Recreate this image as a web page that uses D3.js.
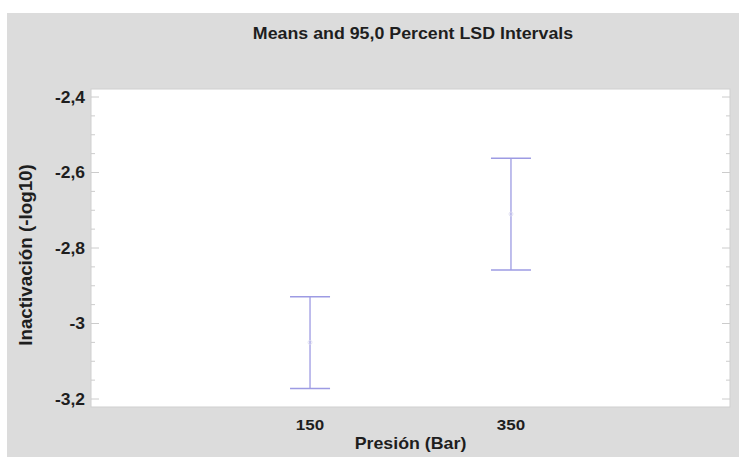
<!DOCTYPE html>
<html><head><meta charset="utf-8">
<script src="https://cdn.jsdelivr.net/npm/d3@7"></script>
<style>body{margin:0;background:#fff}text{font-family:Arial,"Liberation Sans",sans-serif}</style>
</head><body><svg id="c" width="739" height="457"></svg>
<script>
const categories = ["150", "350"];
const means = [-3.05, -2.71];
const lower = [-3.172, -2.858];
const upper = [-2.929, -2.562];
const yTicks = [-2.4, -2.6, -2.8, -3.0, -3.2];
const yTickLabels = ["-2,4", "-2,6", "-2,8", "-3", "-3,2"];
const title = "Means and 95,0 Percent LSD Intervals";
const xTitle = "Presión (Bar)";
const yTitle = "Inactivación (-log10)";

const svg = d3.select("#c");
svg.append("rect").attr("x",7).attr("y",13).attr("width",732).attr("height",444).attr("fill","#dcdcdc");
const L=91,R=730,T=89,B=407;
svg.append("rect").attr("x",L).attr("y",T).attr("width",R-L).attr("height",B-T).attr("fill","#fff").attr("stroke","#cfcfcf");

const y = d3.scaleLinear().domain([-3.2,-2.4]).range([399,97]);
const x = d3.scalePoint().domain(categories).range([L,R]).padding(1.09);

const minor = d3.range(-3.2, -2.399, 0.05).map(v=>+v.toFixed(2));
const g = svg.append("g");
minor.forEach(v=>{
  const major = yTicks.some(t=>Math.abs(t-v)<1e-6);
  const len = major?8:4;
  g.append("line").attr("x1",L).attr("x2",L+len).attr("y1",y(v)).attr("y2",y(v)).attr("stroke","#cccccc");
  g.append("line").attr("x1",R-len).attr("x2",R).attr("y1",y(v)).attr("y2",y(v)).attr("stroke","#cccccc");
});
function htext(px,py,anchor,size,str){
  svg.append("text").attr("transform",`translate(${px},${py}) scale(1,0.9)`).attr("dy","0.35em")
    .attr("text-anchor",anchor).attr("font-size",size).attr("font-weight","bold").attr("fill","#1e1e1e").text(str);
}
yTicks.forEach((v,i)=>htext(85,y(v),"end",17.5,yTickLabels[i]));
categories.forEach(c=>htext(x(c),425,"middle",17,c));
htext((L+R)/2,443,"middle",17.8,xTitle);
htext(413,33,"middle",17.8,title);
svg.append("text").attr("transform","translate(25,255) rotate(-90)").attr("dy","0.35em").attr("text-anchor","middle")
  .attr("font-size",18.8).attr("font-weight","bold").attr("fill","#1e1e1e").text(yTitle);

const col = "#9d9be3";
categories.forEach((c,i)=>{
  const cx = x(c);
  svg.append("line").attr("x1",cx).attr("x2",cx).attr("y1",y(upper[i])).attr("y2",y(lower[i])).attr("stroke",col).attr("stroke-width",1.3);
  [upper[i],lower[i]].forEach(v=>{
    svg.append("line").attr("x1",cx-20).attr("x2",cx+20).attr("y1",y(v)).attr("y2",y(v)).attr("stroke",col).attr("stroke-width",1.5);
  });
  svg.append("circle").attr("cx",cx).attr("cy",y(means[i])).attr("r",2).attr("fill","none").attr("stroke","#dcdcf0").attr("stroke-width",0.8);
});
</script></body></html>
